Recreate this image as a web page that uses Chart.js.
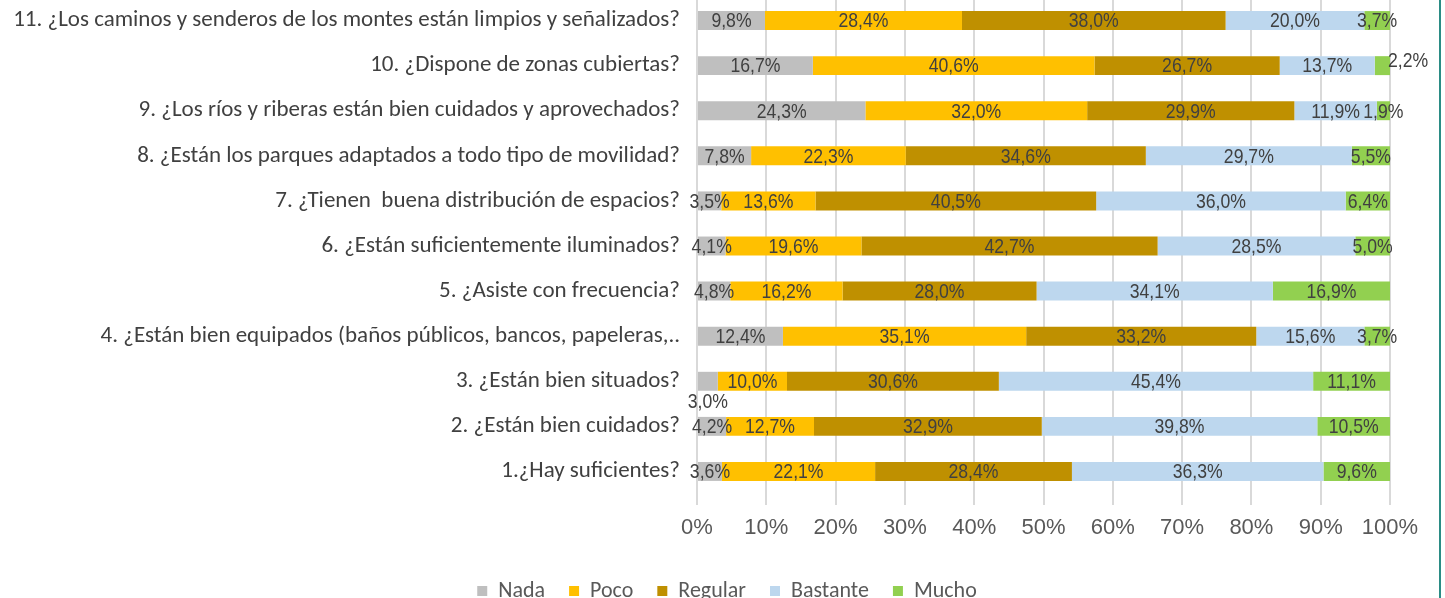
<!DOCTYPE html>
<html lang="es">
<head>
    <meta charset="UTF-8">
    <title>Valoración de parques y zonas verdes</title>
    <style>
        html, body {
            margin: 0;
            padding: 0;
            background: #fff;
            overflow: hidden;
        }
        .wrap {
            position: relative;
            width: 1445px;
            height: 598px;
            overflow: hidden;
        }
        #chart {
            position: absolute;
            left: 0;
            top: -2px;
        }
        .edge {
            position: absolute;
            left: 1439px;
            top: 0;
            width: 2px;
            height: 598px;
            background: #2b8c85;
        }
    </style>
</head>
<body>
    <div class="wrap">
        <canvas id="chart" width="1445" height="614"></canvas>
        <div class="edge"></div>
    </div>
    <script src="https://cdn.jsdelivr.net/npm/chart.js"></script>
    <script>
        const questions = [
            '11. ¿Los caminos y senderos de los montes están limpios y señalizados?',
            '10. ¿Dispone de zonas cubiertas?',
            '9. ¿Los ríos y riberas están bien cuidados y aprovechados?',
            '8. ¿Están los parques adaptados a todo tipo de movilidad?',
            '7. ¿Tienen  buena distribución de espacios?',
            '6. ¿Están suficientemente iluminados?',
            '5. ¿Asiste con frecuencia?',
            '4. ¿Están bien equipados (baños públicos, bancos, papeleras,..',
            '3. ¿Están bien situados?',
            '2. ¿Están bien cuidados?',
            '1.¿Hay suficientes?'
        ];
        const nada     = [9.8, 16.7, 24.3, 7.8, 3.5, 4.1, 4.8, 12.4, 3.0, 4.2, 3.6];
        const poco     = [28.4, 40.6, 32.0, 22.3, 13.6, 19.6, 16.2, 35.1, 10.0, 12.7, 22.1];
        const regular  = [38.0, 26.7, 29.9, 34.6, 40.5, 42.7, 28.0, 33.2, 30.6, 32.9, 28.4];
        const bastante = [20.0, 13.7, 11.9, 29.7, 36.0, 28.5, 34.1, 15.6, 45.4, 39.8, 36.3];
        const mucho    = [3.7, 2.2, 1.9, 5.5, 6.4, 5.0, 16.9, 3.7, 11.1, 10.5, 9.6];
        const seriesNames = ['Nada', 'Poco', 'Regular', 'Bastante', 'Mucho'];
        const seriesColors = ['#bfbfbf', '#ffc000', '#bf9000', '#bdd7ee', '#92d050'];
        const xTicks = [0, 10, 20, 30, 40, 50, 60, 70, 80, 90, 100];

        const series = [nada, poco, regular, bastante, mucho];
        // 100% stacked: each row is scaled to its own total
        const totals = questions.map((q, i) => series.reduce((s, arr) => s + arr[i], 0));

        const datasets = series.map((arr, k) => ({
            label: seriesNames[k],
            data: arr.map((v, i) => v / totals[i] * 100),
            raw: arr,
            backgroundColor: seriesColors[k],
            borderWidth: 0,
            barPercentage: 0.42,
            categoryPercentage: 1
        }));

        const fmt = v => v.toFixed(1).replace('.', ',') + '%';

        // Excel puts a couple of labels outside their segment
        const placeRight = { '1-4': true };   // row 10, Mucho
        const placeBelow = { '8-0': true };   // row 3, Nada

        const barLabels = {
            id: 'barLabels',
            afterDatasetsDraw(chart) {
                const ctx = chart.ctx;
                const sx = 0.84; // squeeze to look like a narrow face
                chart.data.datasets.forEach((ds, k) => {
                    const meta = chart.getDatasetMeta(k);
                    meta.data.forEach((bar, i) => {
                        const text = fmt(ds.raw[i]);
                        const key = i + '-' + k;
                        let x = (bar.x + bar.base) / 2;
                        let y = bar.y + 1;
                        let align = 'center';
                        if (placeRight[key]) {
                            align = 'left';
                            x = bar.x - 2;
                            y = bar.y - 4;
                        } else if (placeBelow[key]) {
                            y = bar.y + 21;
                        }
                        ctx.save();
                        ctx.font = '21px "Liberation Sans", Arial, sans-serif';
                        ctx.fillStyle = '#404040';
                        ctx.textBaseline = 'middle';
                        ctx.textAlign = align;
                        ctx.translate(x, y);
                        ctx.scale(sx, 1);
                        ctx.fillText(text, 0, 0);
                        ctx.restore();
                    });
                });
            }
        };

        // legend in the reference sits a bit right of the canvas centre
        const legendNudge = {
            id: 'legendNudge',
            afterLayout(chart) {
                chart.legend.left += 32;
                chart.legend.right += 32;
            }
        };

        new Chart(document.getElementById('chart'), {
            type: 'bar',
            data: { labels: questions, datasets: datasets },
            plugins: [barLabels, legendNudge],
            options: {
                indexAxis: 'y',
                responsive: false,
                animation: false,
                layout: { padding: { left: 0, right: 55, top: 0, bottom: 0 } },
                plugins: {
                    tooltip: { enabled: false },
                    legend: {
                        position: 'bottom',
                        labels: {
                            font: { family: 'Carlito, Lato, sans-serif', size: 22 },
                            color: '#595959',
                            boxWidth: 10,
                            boxHeight: 10,
                            padding: 24
                        }
                    }
                },
                scales: {
                    x: {
                        stacked: true,
                        min: 0,
                        max: 100,
                        afterBuildTicks: scale => { scale.ticks = xTicks.map(v => ({ value: v })); },
                        afterFit: scale => { scale.height = 62; },
                        ticks: {
                            callback: v => v + '%',
                            font: { family: '"Liberation Sans", Arial, sans-serif', size: 22 },
                            color: '#595959',
                            padding: 10,
                            maxRotation: 0
                        },
                        grid: {
                            color: '#d9d9d9',
                            lineWidth: 2,
                            drawTicks: true,
                            tickLength: 11
                        },
                        border: { display: false }
                    },
                    y: {
                        stacked: true,
                        afterFit: scale => {
                            scale.width = 697;
                            scale.paddingTop = 0;
                            scale.paddingBottom = 0;
                        },
                        ticks: {
                            font: { family: 'Carlito, Lato, sans-serif', size: 23 },
                            color: '#404040',
                            padding: 9,
                            autoSkip: false
                        },
                        grid: { display: false },
                        border: { display: false }
                    }
                }
            }
        });
    </script>
</body>
</html>
